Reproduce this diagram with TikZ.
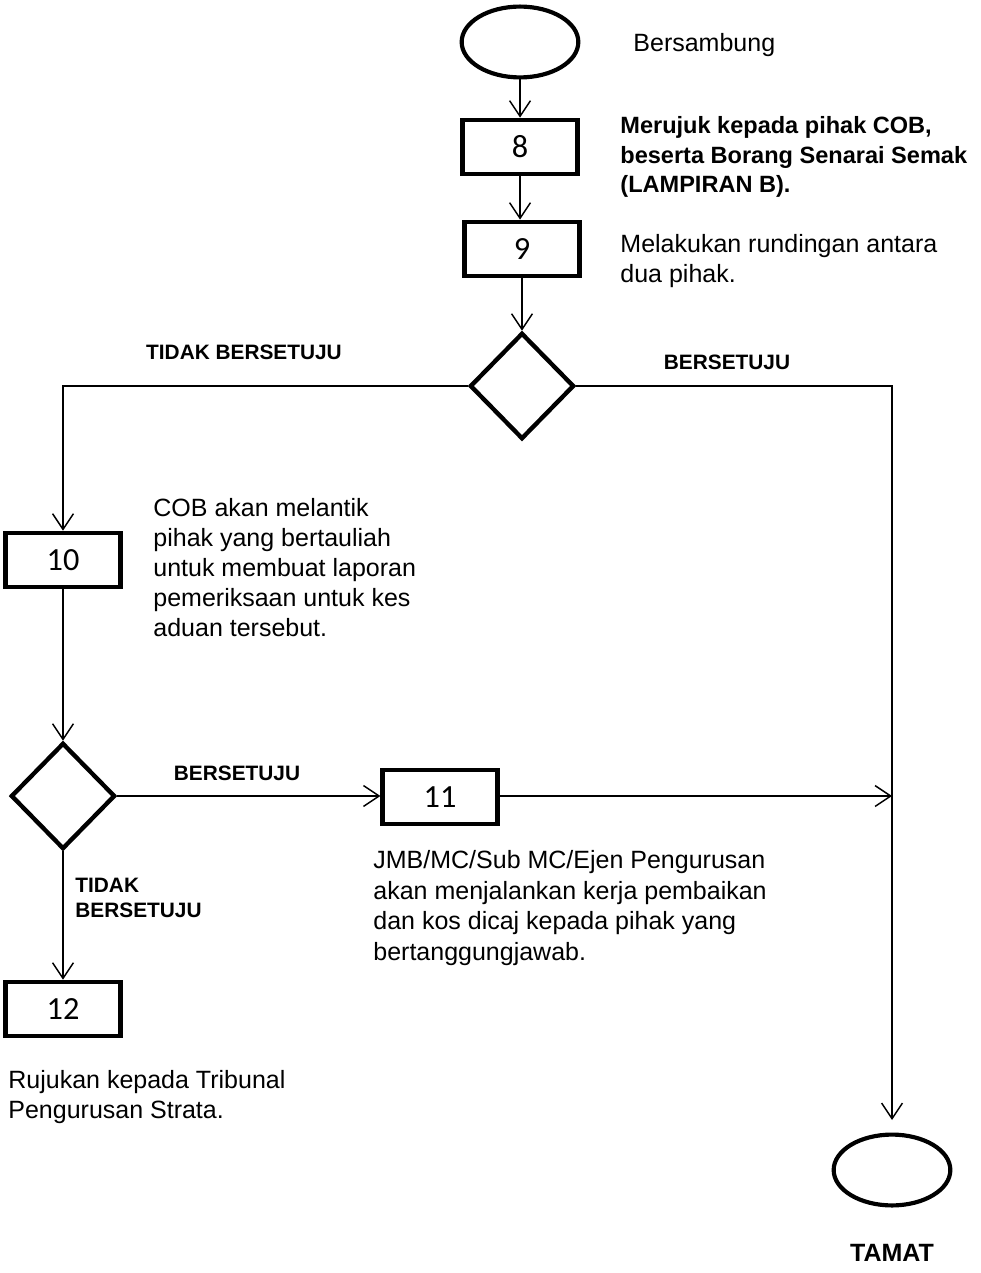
\documentclass[tikz,border=0pt]{standalone}
\usepackage{fontspec}
\setmainfont{Liberation Sans}
\newfontfamily\boxfont{Carlito}
\usetikzlibrary{shapes.geometric,arrows.meta}

\tikzset{
  stepbox/.style={draw, line width=2.2pt, minimum width=55pt, minimum height=26pt,
    inner sep=0pt, font=\boxfont\fontsize{15.5}{17}\selectfont},
  termnode/.style={draw, ellipse, line width=2pt, minimum width=56pt, minimum height=34pt},
  decide/.style={draw, diamond, line width=2.1pt, minimum width=50pt, minimum height=51pt,
    inner sep=0pt},
  flow/.style={-{Straight Barb[length=7.5pt,width=10pt]}, line width=0.7pt},
  note/.style={anchor=west, inner sep=0pt, align=left, font=\fontsize{12}{14.4}\selectfont},
  tag/.style={inner sep=0pt, align=left, font=\bfseries\fontsize{10}{12}\selectfont},
}

\begin{document}
\begin{tikzpicture}[x=0.48pt, y=-0.48pt]
        \useasboundingbox (0,0) rectangle (980,1273);

        % main column
        \node[termnode] (mula) at (520,42) {};
        \node[stepbox] (s8) at (520,147) {8};
        \node[stepbox] (s9) at (522,249) {9};
        \node[decide] (d1) at (522,386) {};

        % left branch
        \node[stepbox] (s10) at (63,560) {10};
        \node[decide] (d2) at (63,796) {};
        \node[stepbox] (s11) at (440,797) {11};
        \node[stepbox] (s12) at (63,1009) {12};

        % end
        \node[termnode] (tamat) at (892,1170) {};

        \draw[flow] (mula) -- (s8);
        \draw[flow] (s8.south) -- (s8.south |- s9.north);
        \draw[flow] (s9) -- (d1);
        \draw[flow] (d1.west) -| (s10.north);
        \draw[flow, shorten >=6pt] (d1.east) -| (tamat.north);
        \draw[flow] (s10) -- (d2);
        \draw[flow] (d2) -- (d2 -| s11.west);
        \draw[flow] (d2) -- (s12);
        \draw[flow] (s11.east |- d2) -- (d2 -| tamat);

        % texts
        \node[note] (t0) at (633,45) {Bersambung};
        \node[note, font=\bfseries\fontsize{11.3}{14}\selectfont] (t8) at (620,157)
            {Merujuk kepada pihak COB,\\beserta Borang Senarai Semak\\(LAMPIRAN B).};
        \node[note] (t9) at (620,261) {Melakukan rundingan antara\\dua pihak.};
        \node[tag] (l1) at (244,352) {TIDAK BERSETUJU};
        \node[tag] (l2) at (727,362) {BERSETUJU};
        \node[note] (t10) at (153,568)
            {COB akan melantik\\pihak yang bertauliah\\untuk membuat laporan\\pemeriksaan untuk kes\\aduan tersebut.};
        \node[tag] (l3) at (237,773) {BERSETUJU};
        \node[tag, anchor=west] (l4) at (75,898) {TIDAK\\BERSETUJU};
        \node[note, font=\fontsize{12}{14.8}\selectfont] (t11) at (373,908)
            {JMB/MC/Sub MC/Ejen Pengurusan\\akan menjalankan kerja pembaikan\\dan kos dicaj kepada pihak yang\\bertanggungjawab.};
        \node[note] (t12) at (8,1097) {Rujukan kepada Tribunal\\Pengurusan Strata.};
        \node[tag, font=\bfseries\fontsize{12}{14}\selectfont] (l5) at (892,1253) {TAMAT};
\end{tikzpicture}
\end{document}
